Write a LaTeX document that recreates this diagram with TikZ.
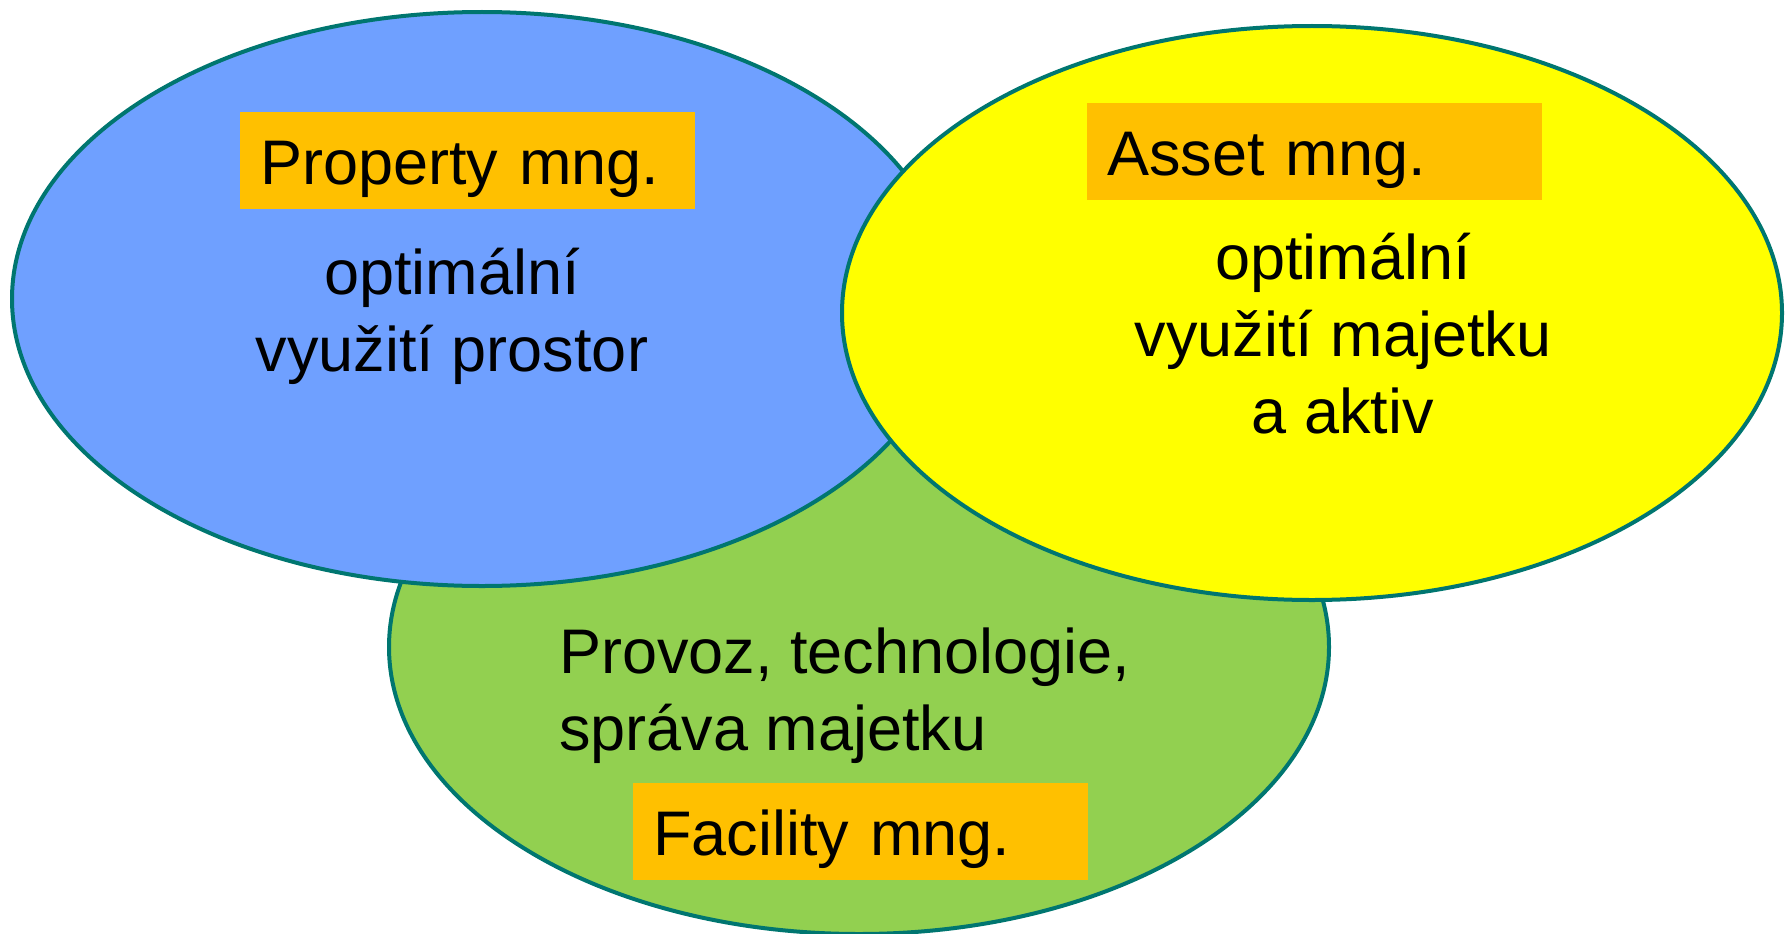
\documentclass[tikz,border=0pt]{standalone}
\usepackage{fontspec}
\setmainfont{Liberation Sans}
\usetikzlibrary{shapes.geometric}

\definecolor{rimteal}{RGB}{0,118,112}
\definecolor{propblue}{RGB}{111,160,255}
\definecolor{facgreen}{RGB}{146,208,80}
\definecolor{assetyellow}{RGB}{255,255,0}
\definecolor{tagorange}{RGB}{255,192,0}

\tikzset{
  area/.style={ellipse, draw=rimteal, line width=4pt, inner sep=0pt,
    minimum width=940pt, minimum height=574pt},
  tag/.style={rectangle, fill=tagorange, anchor=north west, inner ysep=0pt,
    minimum width=455pt, minimum height=97pt, text width=415pt, align=left,
    text height=72pt, text depth=25pt},
  body/.style={align=center, inner sep=0pt}
}

\begin{document}
\begin{tikzpicture}[x=1pt, y=-1pt,
  every node/.style={font=\fontsize{63}{77}\selectfont}]
  \useasboundingbox (0,0) rectangle (1791,934);

  % the three overlapping areas
  \node[area, fill=facgreen]    (facility) at (859,647) {};
  \node[area, fill=propblue]    (property) at (482,299) {};
  \node[area, fill=assetyellow] (asset)    at (1312,313) {};

  % management tags
  \node[tag, inner xsep=17pt] (propTag) at (240,112) {Property mng.};
  \node[tag, inner xsep=20pt] (assetTag) at (1087,103) {Asset mng.};
  \node[tag, inner xsep=18pt] (facTag) at (633,783) {Facility mng.};

  % descriptions (base anchor sits on the last line)
  \node[body, anchor=base] (propText) at (452,371)
    {optimální\\využití prostor};
  \node[body, anchor=base] (assetText) at (1343,433)
    {optimální\\využití majetku\\a aktiv};
  \node[body, align=left, anchor=base west] (facText) at (559,750)
    {Provoz, technologie,\\správa majetku};
\end{tikzpicture}
\end{document}
